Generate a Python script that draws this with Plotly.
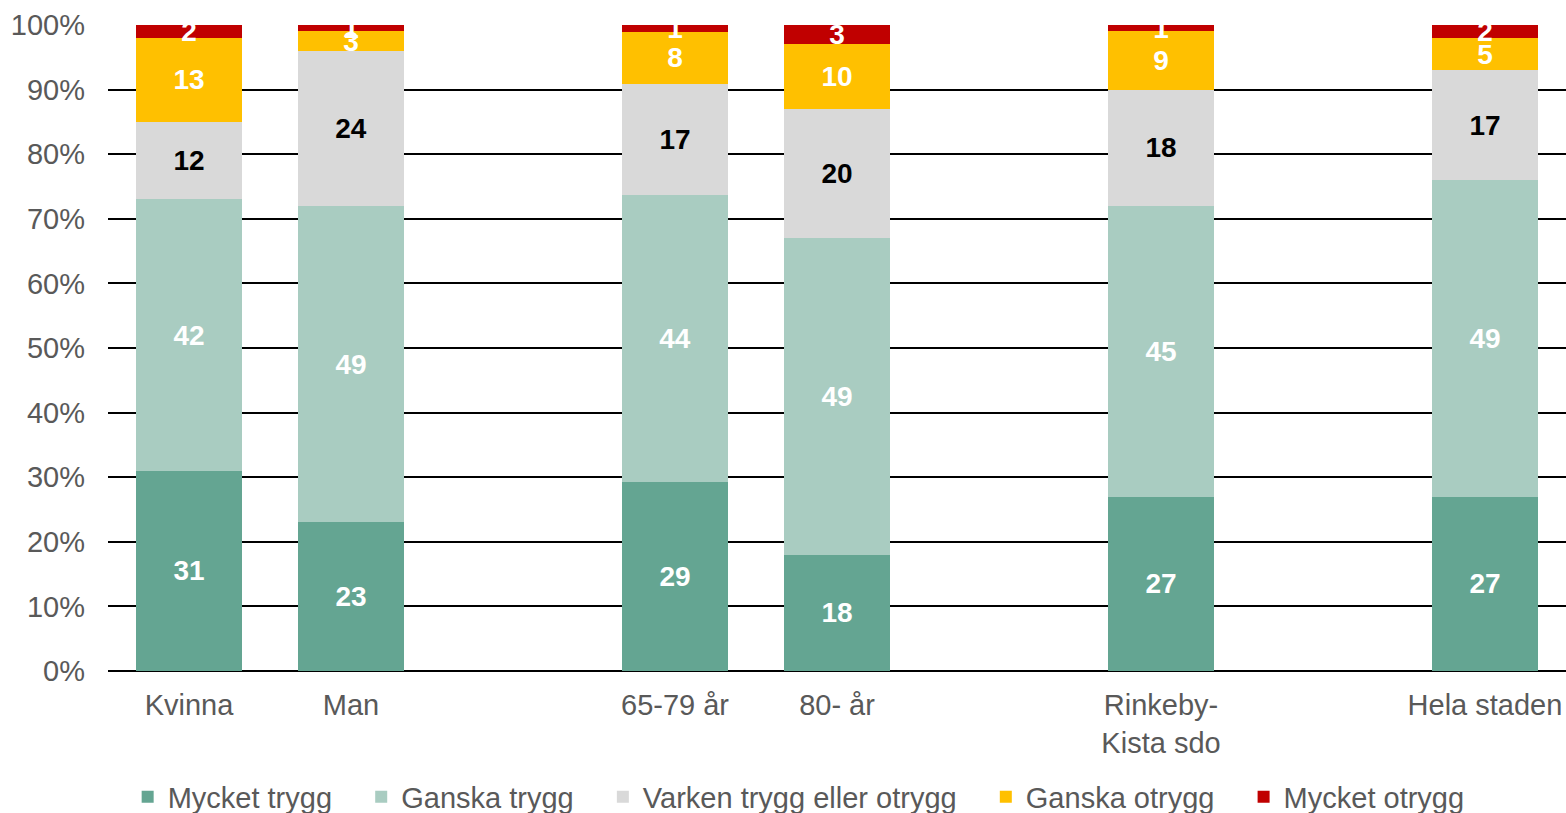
import plotly.graph_objects as go

# Respondent groups; an empty slot separates each group on the x axis
groups = [
    ["Kvinna", "Man"],
    ["65-79 år", "80- år"],
    ["Rinkeby-<br>Kista sdo"],
    ["Hela staden"],
]

series_names = [
    "Mycket trygg",
    "Ganska trygg",
    "Varken trygg eller otrygg",
    "Ganska otrygg",
    "Mycket otrygg",
]

# Share (%) per answer, in category order: Kvinna, Man, 65-79, 80-, Rinkeby-Kista, Hela staden
mycket_trygg = [31, 23, 29, 18, 27, 27]
ganska_trygg = [42, 49, 44, 49, 45, 49]
varken = [12, 24, 17, 20, 18, 17]
ganska_otrygg = [13, 3, 8, 10, 9, 5]
mycket_otrygg = [2, 1, 1, 3, 1, 2]

series_values = [mycket_trygg, ganska_trygg, varken, ganska_otrygg, mycket_otrygg]
colors = ["#64A592", "#A9CCC1", "#D9D9D9", "#FFC000", "#C00000"]
label_colors = ["white", "white", "black", "white", "white"]

# Slot positions: groups laid out left to right with one blank slot between them
x_pos, x_text = [], []
slot = 0
for gi, g in enumerate(groups):
    if gi > 0:
        slot += 1
    for name in g:
        x_pos.append(slot)
        x_text.append(name)
        slot += 1
last_slot = slot - 1

FONT = "Liberation Sans, Arial, sans-serif"
GREY = "#595959"
PAD = "\u00a0" * 3  # extra room between legend entries

fig = go.Figure()
for i, (name, vals, col, lc) in enumerate(zip(series_names, series_values, colors, label_colors)):
    fig.add_trace(go.Bar(
        name=name + (PAD if i < len(series_names) - 1 else ""),
        x=x_pos,
        y=vals,
        text=vals,
        texttemplate="%{text}",
        textposition="inside",
        insidetextanchor="middle",
        textangle=0,
        textfont=dict(family=FONT, size=28, color=lc, weight="bold"),
        marker=dict(color=col, line=dict(width=0)),
        width=0.66,
        hoverinfo="skip",
    ))

fig.update_layout(
    barmode="stack",
    barnorm="percent",
    width=1566,
    height=813,
    margin=dict(l=108, r=0, t=25, b=142, autoexpand=False),
    paper_bgcolor="white",
    plot_bgcolor="white",
    font=dict(family=FONT, size=29, color=GREY),
    uniformtext=dict(minsize=28, mode="show"),
    showlegend=True,
    legend=dict(
        orientation="h",
        xref="container",
        yref="container",
        x=0.51,
        xanchor="center",
        y=(813 - 797) / 813,
        yanchor="middle",
        font=dict(family=FONT, size=29, color=GREY),
        traceorder="normal",
        itemclick=False,
    ),
    xaxis=dict(
        range=[-0.5, last_slot + 0.5],
        tickvals=x_pos,
        ticktext=x_text,
        showgrid=False,
        showline=False,
        zeroline=False,
        ticks="",
        ticklabelstandoff=14,
        automargin=False,
        tickfont=dict(family=FONT, size=29, color=GREY),
        fixedrange=True,
    ),
    yaxis=dict(
        range=[0, 100],
        dtick=10,
        ticksuffix="%",
        showgrid=True,
        gridcolor="black",
        gridwidth=1.5,
        zeroline=True,
        zerolinecolor="black",
        zerolinewidth=1.5,
        showline=False,
        ticks="",
        ticklabelstandoff=22,
        automargin=False,
        tickfont=dict(family=FONT, size=29, color=GREY),
        fixedrange=True,
    ),
)

fig.write_html("out.html")
